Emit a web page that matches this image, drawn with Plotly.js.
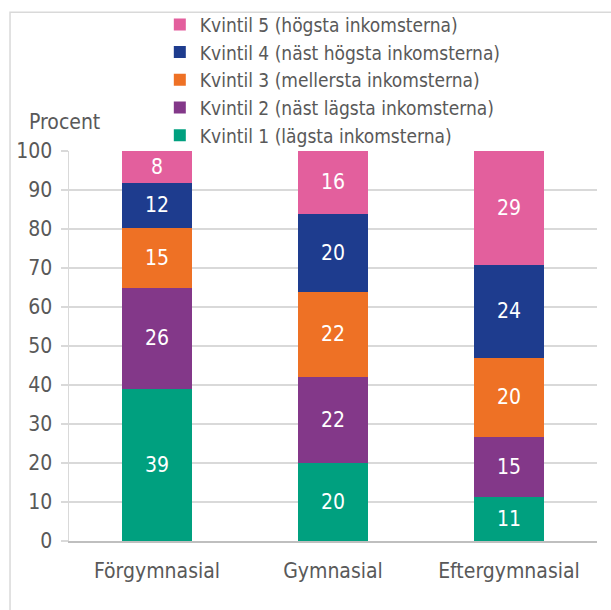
<!DOCTYPE html>
<html>
<head>
<meta charset="utf-8">
<script src="https://cdn.plot.ly/plotly-3.0.1.min.js"></script>
<style>html,body{margin:0;padding:0;background:#fff;}#chart{width:611px;height:610px;}</style>
</head>
<body>
<div id="chart"></div>
<script>
const categories = ["Förgymnasial", "Gymnasial", "Eftergymnasial"];
const seriesNames = [
  "Kvintil 1 (lägsta inkomsterna)",
  "Kvintil 2 (näst lägsta inkomsterna)",
  "Kvintil 3 (mellersta inkomsterna)",
  "Kvintil 4 (näst högsta inkomsterna)",
  "Kvintil 5 (högsta inkomsterna)"
];
const kvintil1 = [39.1, 19.9, 11.2];
const kvintil2 = [25.9, 22.2, 15.4];
const kvintil3 = [15.3, 21.7, 20.4];
const kvintil4 = [11.6, 20.1, 23.7];
const kvintil5 = [8.1, 16.1, 29.3];
const colors = ["#00A07F", "#833889", "#EE7125", "#1E3C8E", "#E35F9D"];
const tickVals = [0,10,20,30,40,50,60,70,80,90,100];

const FONT = "Tahoma, 'DejaVu Sans Condensed', 'Liberation Sans', sans-serif";
const FS = 21;
const series = [kvintil1, kvintil2, kvintil3, kvintil4, kvintil5];
const data = series.map((vals, i) => ({
  type: "bar",
  name: seriesNames[i],
  x: categories,
  y: vals,
  marker: {color: colors[i], line: {width: 0}},
  texttemplate: "%{y:.0f}",
  textposition: "inside",
  insidetextanchor: "middle",
  textangle: 0,
  textfont: {color: "#ffffff", size: FS, family: FONT},
  hoverinfo: "none"
}));

const layout = {
  width: 611, height: 610,
  margin: {l: 69, r: 14, t: 151, b: 69, autoexpand: false},
  barmode: "stack",
  bargap: 0.6,
  paper_bgcolor: "#ffffff",
  plot_bgcolor: "#ffffff",
  font: {family: FONT, size: FS, color: "#595959"},
  showlegend: true,
  legend: {
    x: 0.172, y: 1.373, xanchor: "left", yanchor: "top",
    traceorder: "reversed",
    font: {family: FONT, size: 19, color: "#595959"},
    bgcolor: "rgba(0,0,0,0)",
    itemclick: false
  },
  xaxis: {
    type: "category",
    range: [-0.5, 2.5],
    showgrid: false,
    showline: true, linecolor: "#bfbfbf", linewidth: 1.5,
    ticks: "",
    ticklabelstandoff: 10,
    tickfont: {family: FONT, size: FS, color: "#595959"},
    fixedrange: true
  },
  yaxis: {
    range: [0, 100],
    tickvals: tickVals,
    ticktext: tickVals.map(String),
    showgrid: true, gridcolor: "#d9d9d9", gridwidth: 1.5,
    showline: true, linecolor: "#d9d9d9", linewidth: 1.5,
    ticks: "outside", ticklen: 7, tickcolor: "#d9d9d9", tickwidth: 1.5,
    ticklabelstandoff: 4,
    zeroline: false,
    tickfont: {family: FONT, size: FS, color: "#595959"},
    fixedrange: true
  },
  annotations: [{
    text: "Procent", xref: "paper", yref: "paper",
    x: -0.08, y: 1.074, xanchor: "left", yanchor: "middle",
    showarrow: false,
    font: {family: FONT, size: FS, color: "#595959"}
  }],
  shapes: [{
    type: "rect", xref: "paper", yref: "paper",
    x0: -0.1117, x1: 1.04, y0: -0.2026, y1: 1.356,
    line: {color: "#d9d9d9", width: 1.5}, layer: "below"
  }]
};

Plotly.newPlot("chart", data, layout, {displayModeBar: false, staticPlot: true});
</script>
</body>
</html>
